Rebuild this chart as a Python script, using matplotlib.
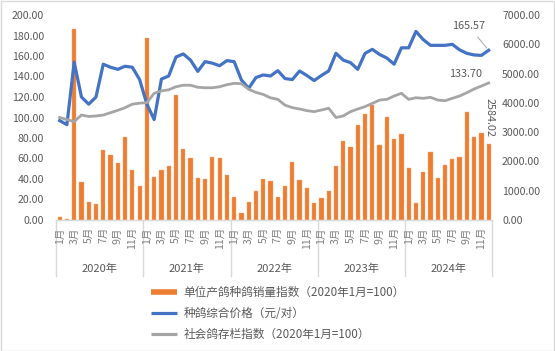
import matplotlib
matplotlib.use("Agg")
import matplotlib.pyplot as plt
from matplotlib.lines import Line2D
from matplotlib.patches import Rectangle
import numpy as np

plt.rcParams['font.family'] = ['Noto Sans CJK SC', 'DejaVu Sans']

years = ['2020年', '2021年', '2022年', '2023年', '2024年']
month_labels = ['1月', '', '3月', '', '5月', '', '7月', '', '9月', '', '11月', '']

# 单位产鸽种鸽销量指数 (right axis)
sales_index = [100, 30, 6520, 1300, 630, 530, 2390, 2210, 1930, 2840, 1720, 1160,
               6230, 1470, 1715, 1855, 4270, 2415, 2100, 1435, 1400, 2135, 2100, 1540,
               770, 230, 600, 990, 1400, 1330, 800, 1160, 1970, 1365, 1100, 570,
               760, 980, 1855, 2700, 2490, 3250, 3620, 3910, 2570, 3500, 2750, 2920,
               1760, 570, 1640, 2310, 1420, 1890, 2070, 2160, 3690, 2820, 2970, 2584.02]
# 种鸽综合价格 (left axis)
price = [97, 93, 154, 120, 113, 120, 152, 149, 147, 150, 149, 137,
         113, 98, 137.5, 140.5, 159, 162, 156, 145, 154.5, 153, 150.5, 155.5,
         154.5, 136.6, 128.5, 139, 141.5, 140.5, 145.7, 138, 137, 145.4, 141, 136,
         141, 145.4, 162.6, 156, 153.5, 147, 162.6, 166.5, 161.5, 158, 152, 168,
         168, 184, 176, 170.4, 170.4, 170.4, 171.4, 166, 162.6, 161, 160.6, 165.57]
# 社会鸽存栏指数 (left axis)
stock_index = [100, 98, 96, 102.4, 101, 101.5, 102.4, 104.7, 107, 109.6, 113, 114,
               114.5, 123.6, 126, 127, 130, 131.5, 131.5, 129.5, 129, 129, 130, 132,
               133.3, 133, 127.5, 124.5, 122.5, 119.2, 117.7, 112, 109.6, 108.3, 106.7, 105.7,
               107.3, 109, 100, 101.5, 105.7, 108.3, 110.6, 113.8, 117, 117.7, 121, 123.6,
               117.7, 119.3, 118.7, 119.7, 117, 116.4, 118.7, 121, 124.2, 127.8, 130.7, 133.70]

labels = ['单位产鸽种鸽销量指数（2020年1月=100）', '种鸽综合价格（元/对）', '社会鸽存栏指数（2020年1月=100）']

ORANGE = '#ED7D31'
BLUE = '#4472C4'
GRAY = '#A5A5A5'
TXT = '#595959'
AXC = '#D9D9D9'

W, H = 555, 351
fig = plt.figure(figsize=(W / 100, H / 100), dpi=100)
x0, x1, yb, yt = 56, 492.3, 220, 15
ax = fig.add_axes([x0 / W, 1 - yb / H, (x1 - x0) / W, (yb - yt) / H])
axb = ax.twinx()

n = len(price)
x = np.arange(n)

axb.bar(x, sales_index, width=0.58, color=ORANGE, edgecolor='#F4B183', linewidth=0.3, zorder=2)
ax.plot(x, price, color=BLUE, lw=2.3, solid_joinstyle='round', zorder=3)
ax.plot(x, stock_index, color=GRAY, lw=2.0, solid_joinstyle='round', zorder=3)

ax.set_zorder(axb.get_zorder() + 1)
ax.patch.set_visible(False)

ax.set_xlim(-0.5, n - 0.5)
ax.set_ylim(0, 200)
axb.set_ylim(0, 7000)
ax.set_yticks(np.arange(0, 201, 20))
ax.set_yticklabels([f'{v:.2f}' for v in np.arange(0, 201, 20)])
axb.set_yticks(np.arange(0, 7001, 1000))
axb.set_yticklabels([f'{v:.2f}' for v in np.arange(0, 7001, 1000)])
for a, pad in ((ax, 8.5), (axb, 7)):
    a.tick_params(axis='y', length=0, pad=pad, labelsize=7.6, labelcolor=TXT)
    for s in a.spines.values():
        s.set_visible(False)
ax.set_xticks([])
axb.set_xticks([])
ax.spines['bottom'].set_visible(True)
ax.spines['bottom'].set_color(AXC)
ax.spines['bottom'].set_linewidth(1)

# category axis (multi-level)
trans = ax.get_xaxis_transform()
for i in range(n):
    lab = month_labels[i % 12]
    if lab:
        ax.text(i, -0.035, lab, rotation=90, ha='center', va='top', fontsize=7.6,
                color='#7F7F7F', transform=trans, clip_on=False)
for k in range(len(years) + 1):
    xb = k * 12 - 0.5
    ax.plot([xb, xb], [0, -0.275], color=AXC, lw=1, transform=trans, clip_on=False)
for k, yl in enumerate(years):
    ax.text(k * 12 + 5.5, -0.24, yl, ha='center', va='center', fontsize=8,
            color=TXT, transform=trans, clip_on=False)

# data labels
ax.annotate(f'{price[-1]:.2f}', xy=(n - 1, price[-1]), xytext=(-14.5, 17.5),
            textcoords='offset points', ha='center', va='center', fontsize=7.8, color=TXT,
            arrowprops=dict(arrowstyle='-', color='#A6A6A6', lw=0.7, shrinkA=3, shrinkB=2))
ax.annotate(f'{stock_index[-1]:.2f}', xy=(n - 1, stock_index[-1]), xytext=(-16.5, 6.5),
            textcoords='offset points', ha='center', va='center', fontsize=7.8, color=TXT)
axb.annotate(f'{sales_index[-1]:.2f}', xy=(n - 1, sales_index[-1]), xytext=(0.3, 19.5),
             textcoords='offset points', ha='center', va='center', fontsize=7.8, color=TXT,
             rotation=270)

handles = [Line2D([], [], color=ORANGE, lw=4, solid_capstyle='butt'),
           Line2D([], [], color=BLUE, lw=2.3, solid_capstyle='butt'),
           Line2D([], [], color=GRAY, lw=2.3, solid_capstyle='butt')]
fig.legend(handles, labels, loc='upper left', bbox_to_anchor=(151 / W, 1 - 286 / H),
           frameon=False, fontsize=8.4, labelcolor=TXT, handlelength=2.2,
           handletextpad=0.6, labelspacing=0.68, borderpad=0, borderaxespad=0)

fig.patches.append(Rectangle((0.5 / W, 0.5 / H), 1 - 1.5 / W, 1 - 1.5 / H, transform=fig.transFigure,
                             fill=False, edgecolor=AXC, lw=1))

fig.savefig('out.png', dpi=100)
